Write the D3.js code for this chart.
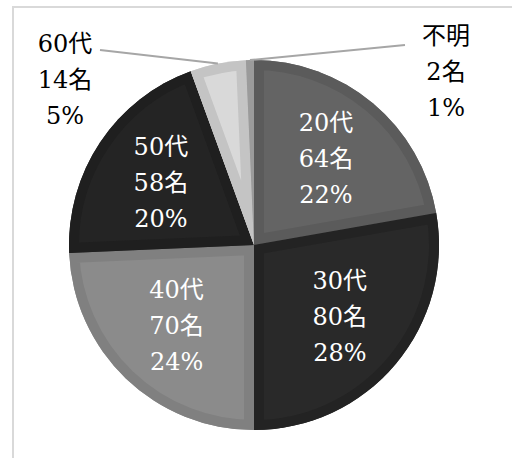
<!DOCTYPE html>
<html>
<head>
<meta charset="utf-8">
<script src="https://cdn.jsdelivr.net/npm/d3@7"></script>
<style>
  html, body { margin: 0; padding: 0; background: #fff; }
  svg { display: block; }
  .leader { stroke: #a6a6a6; stroke-width: 2; fill: none; }
</style>
</head>
<body>
<svg id="chart" width="512" height="458"></svg>
<script>
  // age groups, counts and shown percentages
  const categories = ["20代", "30代", "40代", "50代", "60代", "不明"];
  const counts = [64, 80, 70, 58, 14, 2];
  const percents = ["22%", "28%", "24%", "20%", "5%", "1%"];
  const fills = ["#646464", "#292929", "#8b8b8b", "#242424", "#d9d9d9", "#a5a5a5"];
  const edges = ["#5b5b5b", "#232323", "#808080", "#1f1f1f", "#c4c4c4", "#9b9b9b"];
  const outside = [false, false, false, false, true, true];

  const cx = 254, cy = 245, radius = 185;

  const svg = d3.select("#chart");

  // frame of the original chart area
  svg.append("rect")
    .attr("x", 13).attr("y", 7)
    .attr("width", 700).attr("height", 700)
    .attr("fill", "none").attr("stroke", "#d9d9d9").attr("stroke-width", 2);

  const data = categories.map((c, i) => ({name: c, count: counts[i], pct: percents[i], i: i}));

  const pie = d3.pie().sort(null).value(d => d.count);
  const arcs = pie(data);
  const arc = d3.arc().innerRadius(0).outerRadius(radius);
  const labelArc = d3.arc().innerRadius(112).outerRadius(112);

  const g = svg.append("g").attr("transform", "translate(" + cx + "," + cy + ")");
  const defs = svg.append("defs");

  defs.selectAll("clipPath").data(arcs).enter().append("clipPath")
    .attr("id", d => "clip" + d.data.i)
    .append("path").attr("d", arc);

  // slice body, then an inner bevel stroke clipped to the slice
  const slices = g.selectAll(".slice").data(arcs).enter().append("g").attr("class", "slice");
  slices.append("path")
    .attr("d", arc)
    .attr("fill", d => fills[d.data.i]);
  slices.append("path")
    .attr("d", arc)
    .attr("fill", "none")
    .attr("stroke", d => edges[d.data.i])
    .attr("stroke-width", 20)
    .attr("stroke-linejoin", "miter")
    .attr("clip-path", d => "url(#clip" + d.data.i + ")");

  // outside labels: pushed out to the sides from the slice edge
  const outerOffsets = {4: {x: -189, y: -165, lx: -154, ly: -195}, 5: {x: 192, y: -173, lx: 151, ly: -200}};

  function labelPos(d) {
    if (!outside[d.data.i]) return labelArc.centroid(d);
    const o = outerOffsets[d.data.i];
    return [o.x, o.y];
  }

  const lineH = 36;
  const labels = g.selectAll(".label").data(arcs).enter().append("g")
    .attr("class", "label")
    .attr("transform", d => { const p = labelPos(d); return "translate(" + p[0] + "," + p[1] + ")"; });

  labels.append("text")
    .attr("text-anchor", "middle")
    .attr("font-family", "'DejaVu Serif', 'Noto Sans CJK JP', serif")
    .attr("font-size", 24)
    .attr("fill", d => outside[d.data.i] ? "#000" : "#fff")
    .selectAll("tspan")
    .data(d => [d.data.name, d.data.count + "名", d.data.pct])
    .enter().append("tspan")
    .attr("x", 0)
    .attr("y", (t, j) => (j - 1) * lineH + 8)
    .text(t => t);

  // leader lines for the small slices
  const edgeArc = d3.arc().innerRadius(radius).outerRadius(radius);
  g.selectAll(".leader").data(arcs.filter(d => outside[d.data.i])).enter().append("path")
    .attr("class", "leader")
    .attr("d", d => {
      const o = outerOffsets[d.data.i];
      const p = edgeArc.centroid(d);
      return d3.line()([[o.lx, o.ly], p]);
    });
</script>
</body>
</html>
